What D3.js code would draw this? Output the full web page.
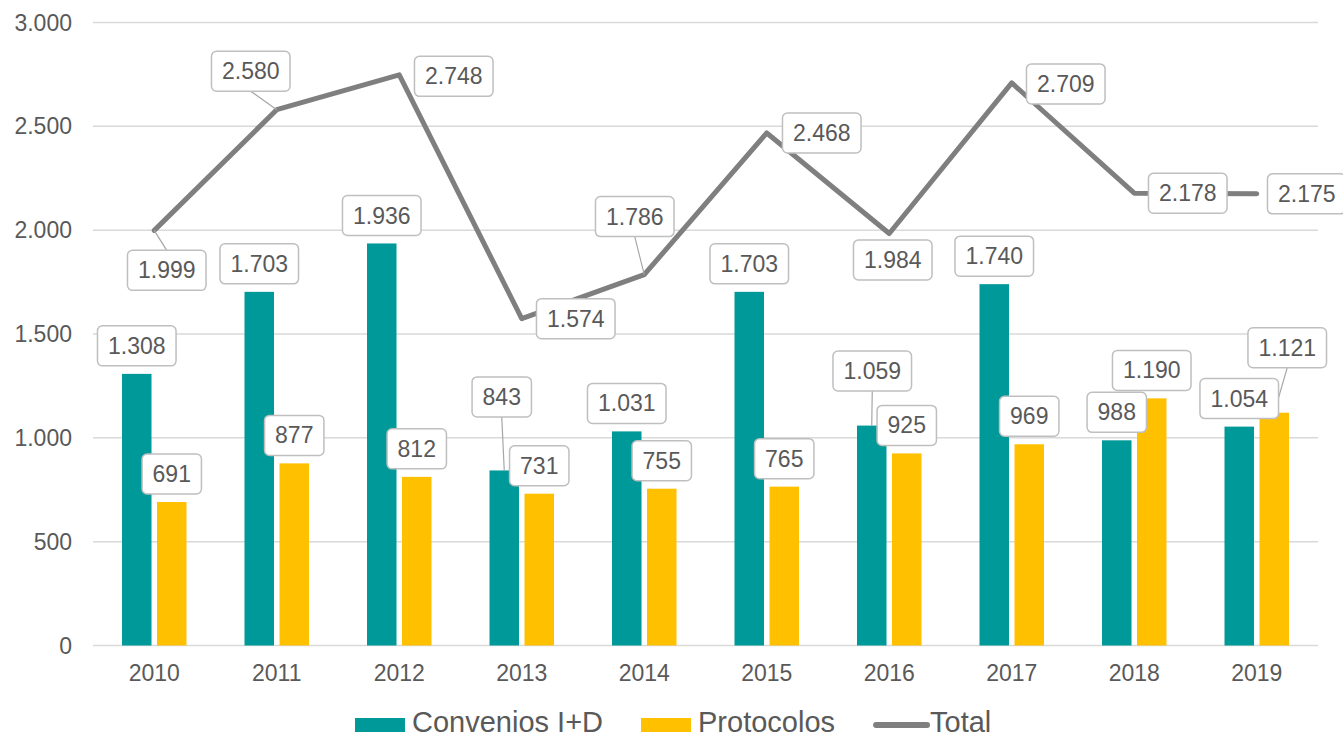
<!DOCTYPE html>
<html>
<head>
<meta charset="utf-8">
<script src="https://cdn.jsdelivr.net/npm/d3@7"></script>
<style>
  body { margin: 0; background: #fff; }
  text { font-family: "Liberation Sans", Arial, sans-serif; fill: #595959; }
</style>
</head>
<body>
<div id="chart"></div>
<script>

// data
var years = ["2010","2011","2012","2013","2014","2015","2016","2017","2018","2019"];
var convenios = [1308, 1703, 1936, 843, 1031, 1703, 1059, 1740, 988, 1054];
var protocolos = [691, 877, 812, 731, 755, 765, 925, 969, 1190, 1121];
var total = [1999, 2580, 2748, 1574, 1786, 2468, 1984, 2709, 2178, 2175];
var yTicks = [0, 500, 1000, 1500, 2000, 2500, 3000];
var seriesNames = ["Convenios I+D", "Protocolos", "Total"];

// label placement (offset of box centre from the data point, leader line flag)
var convLabelPos = [[0,-28],[0,-28],[0,-28],[-2.5,-73.5,1],[0,-28],[0,-28],[0.5,-54.6,1],[0,-28],[0,-28],[0,-28]];
var protLabelPos = [[0,-28],[0,-28],[0,-28],[0,-28],[0,-28],[0,-28],[0,-28],[0,-28],[0,-28],[13,-65,1]];
var totalLabelPos = [[12.5,40,1],[-26,-38.5,1],[54.5,1.5],[54,0],[-9.5,-58,1],[55,0],[3.5,26.5],[54,1],[53.5,0],[50,0]];

var width = 1343, height = 739;
var colors = {conv: "#009999", prot: "#ffc000", total: "#7f7f7f"};

var svg = d3.select("#chart").append("svg")
    .attr("width", width)
    .attr("height", height);

var x = d3.scaleBand().domain(years).range([93, 1318]);
var x1 = d3.scaleBand().domain(["conv","prot"]).range([0, 64.5]).paddingInner(0.157);
var y = d3.scaleLinear().domain([0, 3000]).range([645.5, 22.5]);

function cx(i) { return x(years[i]) + x.bandwidth() / 2; }
function barX(i, s) { return cx(i) - 32.25 + x1(s); }

var fmt = function(v) { return d3.format(",")(v).replace(/,/g, "."); };

// gridlines
svg.append("g").selectAll("line")
    .data(yTicks)
  .enter().append("line")
    .attr("x1", 93).attr("x2", 1318)
    .attr("y1", function(d) { return y(d); })
    .attr("y2", function(d) { return y(d); })
    .attr("stroke", "#d9d9d9")
    .attr("stroke-width", 1.5);

// y tick labels
svg.append("g").selectAll("text")
    .data(yTicks)
  .enter().append("text")
    .attr("x", 72)
    .attr("y", function(d) { return y(d); })
    .attr("dy", "0.35em")
    .attr("text-anchor", "end")
    .style("font-size", "23px")
    .text(function(d) { return fmt(d); });

// x labels
svg.append("g").selectAll("text")
    .data(years)
  .enter().append("text")
    .attr("x", function(d, i) { return cx(i); })
    .attr("y", 681)
    .attr("text-anchor", "middle")
    .style("font-size", "23px")
    .text(function(d) { return d; });

// bars
svg.append("g").selectAll("rect")
    .data(convenios)
  .enter().append("rect")
    .attr("x", function(d, i) { return barX(i, "conv"); })
    .attr("y", function(d) { return y(d); })
    .attr("width", x1.bandwidth())
    .attr("height", function(d) { return y(0) - y(d); })
    .attr("fill", colors.conv);

svg.append("g").selectAll("rect")
    .data(protocolos)
  .enter().append("rect")
    .attr("x", function(d, i) { return barX(i, "prot"); })
    .attr("y", function(d) { return y(d); })
    .attr("width", x1.bandwidth())
    .attr("height", function(d) { return y(0) - y(d); })
    .attr("fill", colors.prot);

// total line
var valueline = d3.line()
    .x(function(d, i) { return cx(i); })
    .y(function(d) { return y(d); });

svg.append("path")
    .datum(total)
    .attr("d", valueline)
    .attr("fill", "none")
    .attr("stroke", colors.total)
    .attr("stroke-width", 5)
    .attr("stroke-linecap", "round")
    .attr("stroke-linejoin", "round");

// data labels
var labels = [];
convenios.forEach(function(v, i) {
  labels.push({v: v, px: barX(i, "conv") + x1.bandwidth() / 2, py: y(v), pos: convLabelPos[i]});
});
protocolos.forEach(function(v, i) {
  labels.push({v: v, px: barX(i, "prot") + x1.bandwidth() / 2, py: y(v), pos: protLabelPos[i]});
});
total.forEach(function(v, i) {
  labels.push({v: v, px: cx(i), py: y(v), pos: totalLabelPos[i]});
});

var boxH = 40;
var labelG = svg.append("g");

// leaders first so boxes sit on top
labels.forEach(function(d) {
  if (!d.pos[2]) return;
  var lx = d.px + d.pos[0], ly = d.py + d.pos[1];
  var sy = d.pos[1] < 0 ? ly + boxH / 2 : ly - boxH / 2;
  labelG.append("line")
      .attr("x1", lx).attr("y1", sy)
      .attr("x2", d.px).attr("y2", d.py)
      .attr("stroke", "#a6a6a6")
      .attr("stroke-width", 1.2);
});

labels.forEach(function(d) {
  var lx = d.px + d.pos[0], ly = d.py + d.pos[1];
  var g = labelG.append("g");
  var rect = g.append("rect");
  var t = g.append("text")
      .attr("x", lx)
      .attr("y", ly)
      .attr("dy", "0.35em")
      .attr("text-anchor", "middle")
      .style("font-size", "23px")
      .text(fmt(d.v));
  var w = t.node().getComputedTextLength() + 21;
  rect.attr("x", lx - w / 2)
      .attr("y", ly - boxH / 2)
      .attr("width", w)
      .attr("height", boxH)
      .attr("rx", 5)
      .attr("fill", "#fff")
      .attr("stroke", "#bfbfbf")
      .attr("stroke-width", 1.5);
});

// legend
var legend = svg.append("g");
var lxPos = 355;
seriesNames.forEach(function(name, i) {
  if (i < 2) {
    legend.append("rect")
        .attr("x", lxPos).attr("y", 718)
        .attr("width", 50).attr("height", 14)
        .attr("fill", i == 0 ? colors.conv : colors.prot);
  } else {
    legend.append("line")
        .attr("x1", lxPos + 3).attr("x2", lxPos + 54)
        .attr("y1", 725).attr("y2", 725)
        .attr("stroke", colors.total)
        .attr("stroke-width", 6)
        .attr("stroke-linecap", "round");
  }
  var t = legend.append("text")
      .attr("x", lxPos + 57)
      .attr("y", 732)
      .style("font-size", "29px")
      .text(name);
  lxPos = lxPos + 57 + t.node().getComputedTextLength() + 38;
});

</script>
</body>
</html>
